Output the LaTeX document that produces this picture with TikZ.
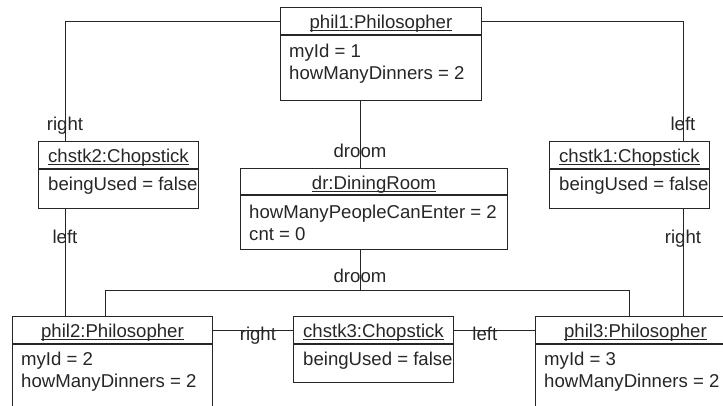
\documentclass[tikz,border=0pt]{standalone}
\usepackage{fontspec}
\setmainfont{Liberation Sans}
\definecolor{ink}{HTML}{262626}
% object name with a thin underline just below the baseline
\newcommand\objname[1]{\setbox0=\hbox{#1}\rlap{\rule[-2.4pt]{\wd0}{0.9pt}}\box0}
\begin{document}
\begin{tikzpicture}[x=1pt,y=-1pt,
  every node/.style={font=\fontsize{18.6}{22}\selectfont, text=ink},
  head/.style={draw=ink, line width=0.9pt, anchor=north west, inner sep=0pt,
    minimum height=27pt, text height=19pt, text depth=3pt},
  body/.style={draw=ink, line width=0.9pt, anchor=north west, inner sep=0pt},
  attr/.style={anchor=base west, inner sep=0pt},
  link/.style={draw=ink, line width=0.9pt},
  role/.style={anchor=base, inner sep=0pt}]

\useasboundingbox (0,0) rectangle (723,405);
\clip (0,0) rectangle (723,405);

% ---- objects ----
\node[head, minimum width=201pt] (phil1h) at (280,7) {\objname{phil1:Philosopher}};
\node[body, minimum width=201pt, minimum height=65pt] (phil1b) at (phil1h.south west) {};
\node[attr] (phil1a1) at ([xshift=9pt,yshift=-23pt]phil1b.north west) {myId = 1};
\node[attr] (phil1a2) at ([xshift=9pt,yshift=-45pt]phil1b.north west) {howManyDinners = 2};

\node[head, minimum width=160pt] (chstk2h) at (38,141) {\objname{chstk2:Chopstick}};
\node[body, minimum width=160pt, minimum height=39pt] (chstk2b) at (chstk2h.south west) {};
\node[attr] (chstk2a1) at ([xshift=10pt,yshift=-22pt]chstk2b.north west) {beingUsed = false};

\node[head, minimum width=267pt, minimum height=26pt] (drh) at (240,168) {\objname{dr:DiningRoom}};
\node[body, minimum width=267pt, minimum height=54pt] (drb) at (drh.south west) {};
\node[attr] (dra1) at ([xshift=9pt,yshift=-24pt]drb.north west) {howManyPeopleCanEnter = 2};
\node[attr] (dra2) at ([xshift=9pt,yshift=-45.5pt]drb.north west) {cnt = 0};

\node[head, minimum width=160pt] (chstk1h) at (549,141) {\objname{chstk1:Chopstick}};
\node[body, minimum width=160pt, minimum height=39pt] (chstk1b) at (chstk1h.south west) {};
\node[attr] (chstk1a1) at ([xshift=10pt,yshift=-22pt]chstk1b.north west) {beingUsed = false};

\node[head, minimum width=200pt] (phil2h) at (12,316) {\objname{phil2:Philosopher}};
\node[body, minimum width=200pt, minimum height=65pt] (phil2b) at (phil2h.south west) {};
\node[attr] (phil2a1) at ([xshift=9pt,yshift=-22pt]phil2b.north west) {myId = 2};
\node[attr] (phil2a2) at ([xshift=9pt,yshift=-44pt]phil2b.north west) {howManyDinners = 2};

\node[head, minimum width=160pt] (chstk3h) at (293,316) {\objname{chstk3:Chopstick}};
\node[body, minimum width=160pt, minimum height=38pt] (chstk3b) at (chstk3h.south west) {};
\node[attr] (chstk3a1) at ([xshift=10pt,yshift=-22pt]chstk3b.north west) {beingUsed = false};

\node[head, minimum width=200pt] (phil3h) at (535,316) {\objname{phil3:Philosopher}};
\node[body, minimum width=200pt, minimum height=65pt] (phil3b) at (phil3h.south west) {};
\node[attr] (phil3a1) at ([xshift=9pt,yshift=-22pt]phil3b.north west) {myId = 3};
\node[attr] (phil3a2) at ([xshift=9pt,yshift=-44pt]phil3b.north west) {howManyDinners = 2};

% ---- link end points ----
\coordinate (c2in)  at ([xshift=27pt]chstk2h.north west);
\coordinate (c2out) at ([xshift=27pt]chstk2b.south west);
\coordinate (c1in)  at ([xshift=134pt]chstk1h.north west);
\coordinate (c1out) at ([xshift=134pt]chstk1b.south west);
\coordinate (p1out) at ([xshift=80pt]phil1b.south west);
\coordinate (drout) at ([xshift=120pt]drb.south west);
\coordinate (bus)   at ([yshift=-41pt]drout);
\coordinate (p2in)  at ([xshift=93pt]phil2h.north west);
\coordinate (p3in)  at ([xshift=94pt]phil3h.north west);

% ---- links ----
\draw[link] (phil1h.west) -| (c2in);
\draw[link] (phil1h.east) -| (c1in);
\draw[link] (p1out) -- (p1out |- drh.north);
\draw[link] (c2out) -- (c2out |- phil2h.north);
\draw[link] (c1out) -- (c1out |- phil3h.north);
\draw[link] (drout) -- (bus);
\draw[link] (p2in) |- (bus) -| (p3in);
\draw[link] (phil2h.east) -- (chstk3h.west);
\draw[link] (chstk3h.east) -- (phil3h.west);

% ---- role names ----
\node[role] (rl1) at ([yshift=11pt]c2in) {right};
\node[role] (rl2) at ([yshift=11pt]c1in) {left};
\node[role] (rl3) at ([yshift=11pt]p1out |- drh.north) {droom};
\node[role] (rl4) at ([yshift=-35pt]c2out) {left};
\node[role] (rl5) at ([yshift=-35pt]c1out) {right};
\node[role] (rl6) at ([yshift=-33pt]drout) {droom};
\node[role] (rl7) at ([xshift=45pt,yshift=-11pt]phil2h.east) {right};
\node[role] (rl8) at ([xshift=31pt,yshift=-11pt]chstk3h.east) {left};
\end{tikzpicture}
\end{document}
